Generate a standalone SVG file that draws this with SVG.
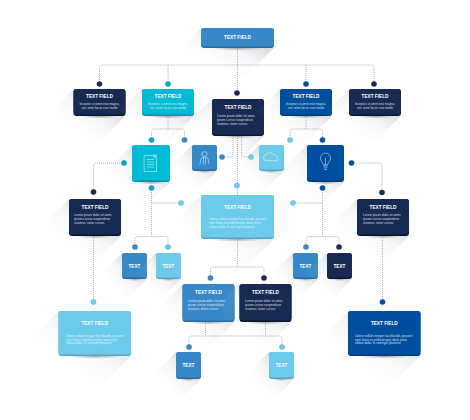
<svg xmlns="http://www.w3.org/2000/svg" width="470" height="420" viewBox="0 0 470 420">
<style>
.sh{fill:url(#long)}
.el{fill:url(#under)}
.navy{fill:#172B52}.navyE{fill:#0B1630}
.cyan{fill:#00BAD6}.cyanE{fill:#0093A9}
.blue{fill:#3788C9}.blueE{fill:#2A6BA0}
.sky{fill:#6CCBEA}.skyE{fill:#52A8C2}
.deep{fill:#004F9E}.deepE{fill:#003A75}
text{font-family:"Liberation Sans",Arial,sans-serif;fill:#fff}
.t{font-size:4.7px;font-weight:700;text-anchor:middle}
.b{font-size:3.1px;fill-opacity:.82}
.c{text-anchor:middle}
.ln{fill:none;stroke:#9BA0A8;stroke-width:.8;stroke-dasharray:1 1}
.ic{fill:none;stroke:#fff;stroke-width:.6;stroke-opacity:.8;stroke-linejoin:round;stroke-linecap:round}
.dn{fill:#172B52}.dc{fill:#00A9C8}.db{fill:#3788C9}.ds{fill:#6CCBEA}.dd{fill:#004F9E}
#dots circle{stroke:#8FA3B5;stroke-opacity:.35;stroke-width:.4}
</style>
<defs>
<linearGradient id="long" x1="1" y1="0" x2="0" y2="1">
<stop offset=".25" stop-color="#8C95A6" stop-opacity=".32"/>
<stop offset=".42" stop-color="#A6AEBB" stop-opacity=".13"/>
<stop offset=".68" stop-color="#C8CDD6" stop-opacity="0"/>
</linearGradient>
<radialGradient id="under">
<stop offset="0" stop-color="#555" stop-opacity=".45"/>
<stop offset="1" stop-color="#555" stop-opacity="0"/>
</radialGradient>
</defs>

<g id="node-top"><polygon class="sh" points="201,28 171,58 244,78 274,48"/><ellipse class="el" cx="237.500" cy="48.500" rx="26" ry="2"/><rect class="blueE" x="201" y="28" width="73" height="20" rx="3"/><rect class="blue" x="201" y="28" width="73" height="18.500" rx="3"/><text class="t" x="237.500" y="38.500">TEXT FIELD</text></g>

<g id="node-a1"><polygon class="sh" points="73.500,89 43.500,119 95.500,146 125.500,116"/><ellipse class="el" cx="99.500" cy="116.500" rx="19" ry="2"/><rect class="navyE" x="73.500" y="89" width="52" height="27" rx="3"/><rect class="navy" x="73.500" y="89" width="52" height="25.500" rx="3"/><text class="t" x="99.500" y="98">TEXT FIELD</text><text class="b c" x="99.500" y="105.300">Inceptos ut amet erat magna,</text><text class="b c" x="99.500" y="109">nec enim lacus cras morbi</text></g>

<g id="node-a2"><polygon class="sh" points="142,89 112,119 164,146 194,116"/><ellipse class="el" cx="168" cy="116.500" rx="19" ry="2"/><rect class="cyanE" x="142" y="89" width="52" height="27" rx="3"/><rect class="cyan" x="142" y="89" width="52" height="25.500" rx="3"/><text class="t" x="168" y="98">TEXT FIELD</text><text class="b c" x="168" y="105.300">Inceptos ut amet erat magna,</text><text class="b c" x="168" y="109">nec enim lacus cras morbi</text></g>

<g id="node-center"><polygon class="sh" points="212,99 182,129 234,166 264,136"/><ellipse class="el" cx="238" cy="136.500" rx="19" ry="2"/><rect class="navyE" x="212" y="99" width="52" height="37" rx="3"/><rect class="navy" x="212" y="99" width="52" height="35.500" rx="3"/><text class="t" x="238" y="108.500">TEXT FIELD</text><text class="b" x="217" y="116.800">Lorem ipsum dolor sit amet,</text><text class="b" x="217" y="120.800">ipsum cursus suspendisse</text><text class="b" x="217" y="124.800">vivamus, tortor cursus</text></g>

<g id="node-a3"><polygon class="sh" points="280,89 250,119 302,146 332,116"/><ellipse class="el" cx="306" cy="116.500" rx="19" ry="2"/><rect class="deepE" x="280" y="89" width="52" height="27" rx="3"/><rect class="deep" x="280" y="89" width="52" height="25.500" rx="3"/><text class="t" x="306" y="98">TEXT FIELD</text><text class="b c" x="306" y="105.300">Inceptos ut amet erat magna,</text><text class="b c" x="306" y="109">nec enim lacus cras morbi</text></g>

<g id="node-a4"><polygon class="sh" points="349,89 319,119 371,146 401,116"/><ellipse class="el" cx="375" cy="116.500" rx="19" ry="2"/><rect class="navyE" x="349" y="89" width="52" height="27" rx="3"/><rect class="navy" x="349" y="89" width="52" height="25.500" rx="3"/><text class="t" x="375" y="98">TEXT FIELD</text><text class="b c" x="375" y="105.300">Inceptos ut amet erat magna,</text><text class="b c" x="375" y="109">nec enim lacus cras morbi</text></g>

<g id="icon-doc"><polygon class="sh" points="132,145 102,175 140,212 170,182"/><ellipse class="el" cx="151" cy="182.500" rx="14" ry="2"/><rect class="cyanE" x="132" y="145" width="38" height="37" rx="3"/><rect class="cyan" x="132" y="145" width="38" height="35.500" rx="3"/><path class="ic" d="M144.500 155.500H154l2.500 2.500V171.500H144.500ZM147 159.500H154M147 162H154M147 164.500H154M147 167H154"/><circle class="ic" cx="155" cy="156" r="1.400"/></g>

<g id="icon-person"><polygon class="sh" points="192,145 166,171 191,197 217,171"/><ellipse class="el" cx="204.500" cy="171.500" rx="9" ry="1.500"/><rect class="blueE" x="192" y="145" width="25" height="26" rx="3"/><rect class="blue" x="192" y="145" width="25" height="24.500" rx="3"/><path class="ic" d="M201.800 154a2.700 2.300 0 0 1 5.400 0a2.700 2.300 0 0 1-5.400 0M200 164l1-5.500q1.500-1.500 3.500-1.500t3.500 1.500l1 5.500M203.500 157.500V164M205.500 157.500V164"/></g>

<g id="icon-cloud"><polygon class="sh" points="259,145 233,171 258,197 284,171"/><ellipse class="el" cx="271.500" cy="171.500" rx="9" ry="1.500"/><rect class="skyE" x="259" y="145" width="25" height="26" rx="3"/><rect class="sky" x="259" y="145" width="25" height="24.500" rx="3"/><path class="ic" d="M265.500 160.500a2.800 2.800 0 0 1 .5-5.500a4 4 0 0 1 7-.5a3 3 0 0 1 3.500 2.500a2.200 2.200 0 0 1 1 3.500Z"/></g>

<g id="icon-bulb"><polygon class="sh" points="307,145 277,175 314,212 344,182"/><ellipse class="el" cx="325.500" cy="182.500" rx="14" ry="2"/><rect class="deepE" x="307" y="145" width="37" height="37" rx="3"/><rect class="deep" x="307" y="145" width="37" height="35.500" rx="3"/><path class="ic" d="M323.500 164.500c-1-2.500-3-3.500-3-6.500a5 5 0 0 1 10 0c0 3-2 4-3 6.500ZM325.500 164.500V158M323.500 166H327.500M324 167.800H327M324.500 169.500H326.500"/></g>

<g id="node-left"><polygon class="sh" points="69,199 39,229 91,266 121,236"/><ellipse class="el" cx="95" cy="236.500" rx="19" ry="2"/><rect class="navyE" x="69" y="199" width="52" height="37" rx="3"/><rect class="navy" x="69" y="199" width="52" height="35.500" rx="3"/><text class="t" x="95" y="208.500">TEXT FIELD</text><text class="b" x="74" y="216.200">Lorem ipsum dolor sit amet,</text><text class="b" x="74" y="220.200">ipsum cursus suspendisse</text><text class="b" x="74" y="224.200">vivamus, tortor cursus</text></g>

<g id="node-right"><polygon class="sh" points="357,199 327,229 379,266 409,236"/><ellipse class="el" cx="383" cy="236.500" rx="19" ry="2"/><rect class="navyE" x="357" y="199" width="52" height="37" rx="3"/><rect class="navy" x="357" y="199" width="52" height="35.500" rx="3"/><text class="t" x="383" y="208.500">TEXT FIELD</text><text class="b" x="363" y="216.200">Lorem ipsum dolor sit amet,</text><text class="b" x="363" y="220.200">ipsum cursus suspendisse</text><text class="b" x="363" y="224.200">vivamus, tortor cursus</text></g>

<g id="node-mid"><polygon class="sh" points="201,195 171,225 244,269 274,239"/><ellipse class="el" cx="237.500" cy="239.500" rx="27" ry="2.200"/><rect class="skyE" x="201" y="195" width="73" height="44" rx="3"/><rect class="sky" x="201" y="195" width="73" height="42.500" rx="3"/><text class="t" x="237.500" y="208.600">TEXT FIELD</text><text class="b" x="209" y="219.800">Libero nullam integer has blandit, posuere</text><text class="b" x="209" y="223.700">eget litora eu,pellentesque diam porta</text><text class="b" x="209" y="227.600">neque dolor, in sed eget pharetra</text></g>

<g id="sq-1"><polygon class="sh" points="122,253 96,279 121,305 147,279"/><ellipse class="el" cx="134.500" cy="279.500" rx="9" ry="1.500"/><rect class="blueE" x="122" y="253" width="25" height="26" rx="3"/><rect class="blue" x="122" y="253" width="25" height="24.500" rx="3"/><text class="t" x="134.500" y="267.600">TEXT</text></g>
<g id="sq-2"><polygon class="sh" points="156,253 130,279 155,305 181,279"/><ellipse class="el" cx="168.500" cy="279.500" rx="9" ry="1.500"/><rect class="skyE" x="156" y="253" width="25" height="26" rx="3"/><rect class="sky" x="156" y="253" width="25" height="24.500" rx="3"/><text class="t" x="168.500" y="267.600">TEXT</text></g>
<g id="sq-3"><polygon class="sh" points="293,253 267,279 292,305 318,279"/><ellipse class="el" cx="305.500" cy="279.500" rx="9" ry="1.500"/><rect class="blueE" x="293" y="253" width="25" height="26" rx="3"/><rect class="blue" x="293" y="253" width="25" height="24.500" rx="3"/><text class="t" x="305.500" y="267.600">TEXT</text></g>
<g id="sq-4"><polygon class="sh" points="327,253 301,279 326,305 352,279"/><ellipse class="el" cx="339.500" cy="279.500" rx="9" ry="1.500"/><rect class="navyE" x="327" y="253" width="25" height="26" rx="3"/><rect class="navy" x="327" y="253" width="25" height="24.500" rx="3"/><text class="t" x="339.500" y="267.600">TEXT</text></g>

<g id="node-low1"><polygon class="sh" points="182.500,284 152.500,314 204.500,352 234.500,322"/><ellipse class="el" cx="208.500" cy="322.500" rx="19" ry="2"/><rect class="blueE" x="182.500" y="284" width="52" height="38" rx="3"/><rect class="blue" x="182.500" y="284" width="52" height="36.500" rx="3"/><text class="t" x="208.500" y="294.300">TEXT FIELD</text><text class="b" x="187.700" y="302.400">Lorem ipsum dolor sit amet,</text><text class="b" x="187.700" y="306.400">ipsum cursus suspendisse</text><text class="b" x="187.700" y="310.400">vivamus, tortor cursus</text></g>

<g id="node-low2"><polygon class="sh" points="239.500,284 209.500,314 261.500,352 291.500,322"/><ellipse class="el" cx="265.500" cy="322.500" rx="19" ry="2"/><rect class="navyE" x="239.500" y="284" width="52" height="38" rx="3"/><rect class="navy" x="239.500" y="284" width="52" height="36.500" rx="3"/><text class="t" x="265.500" y="294.300">TEXT FIELD</text><text class="b" x="245" y="302.400">Lorem ipsum dolor sit amet,</text><text class="b" x="245" y="306.400">ipsum cursus suspendisse</text><text class="b" x="245" y="310.400">vivamus, tortor cursus</text></g>

<g id="node-bl"><polygon class="sh" points="58.500,311 28.500,341 101,386 131,356"/><ellipse class="el" cx="95" cy="356.500" rx="27" ry="2.200"/><rect class="skyE" x="58.500" y="311" width="72.500" height="45" rx="3"/><rect class="sky" x="58.500" y="311" width="72.500" height="43.500" rx="3"/><text class="t" x="94.800" y="325.300">TEXT FIELD</text><text class="b" x="66" y="336.800">Libero nullam integer has blandit, posuere</text><text class="b" x="66" y="340.600">eget litora eu,pellentesque diam porta</text><text class="b" x="66" y="344.400">neque dolor, in sed eget pharetra</text></g>

<g id="node-br"><polygon class="sh" points="348,311 318,341 390.500,386 420.500,356"/><ellipse class="el" cx="384.500" cy="356.500" rx="27" ry="2.200"/><rect class="deepE" x="348" y="311" width="72.500" height="45" rx="3"/><rect class="deep" x="348" y="311" width="72.500" height="43.500" rx="3"/><text class="t" x="384.300" y="325.300">TEXT FIELD</text><text class="b" x="355" y="336.800">Libero nullam integer has blandit, posuere</text><text class="b" x="355" y="340.600">eget litora eu,pellentesque diam porta</text><text class="b" x="355" y="344.400">neque dolor, in sed eget pharetra</text></g>

<g id="sq-5"><polygon class="sh" points="176,352 150,378 175,405 201,379"/><ellipse class="el" cx="188.500" cy="379.500" rx="9" ry="1.500"/><rect class="blueE" x="176" y="352" width="25" height="27" rx="3"/><rect class="blue" x="176" y="352" width="25" height="25.500" rx="3"/><text class="t" x="188.500" y="366.600">TEXT</text></g>
<g id="sq-6"><polygon class="sh" points="269,352 243,378 268,405 294,379"/><ellipse class="el" cx="281.500" cy="379.500" rx="9" ry="1.500"/><rect class="skyE" x="269" y="352" width="25" height="27" rx="3"/><rect class="sky" x="269" y="352" width="25" height="25.500" rx="3"/><text class="t" x="281.500" y="366.600">TEXT</text></g>

<g id="connectors">
<path class="ln" d="M237.500 48V93"/>
<path class="ln" d="M99.500 84V68q0-3 3-3H371q3 0 3 3V84"/>
<path class="ln" d="M168 65V84M306 65V84"/>
<path class="ln" d="M168 116V129M151.500 140V132q0-3 3-3H181.500q3 0 3 3V140"/>
<path class="ln" d="M306 116V129M290 140V132q0-3 3-3H319.500q3 0 3 3V140"/>
<path class="ln" d="M233 136V154q0 3-3 3H222"/>
<path class="ln" d="M241.500 136V154q0 3 3 3H251"/>
<path class="ln" d="M237.500 136V195"/>
<path class="ln" d="M124 163H96.500q-3 0-3 3V192"/>
<path class="ln" d="M351.500 163H379q3 0 3 3V192"/>
<path class="ln" d="M151.500 188V236.500M151.500 203H181"/>
<path class="ln" d="M135 247V239.500q0-3 3-3H165q3 0 3 3V247"/>
<path class="ln" d="M322.500 188V236.500M322.500 203H293"/>
<path class="ln" d="M306 247V239.500q0-3 3-3H336q3 0 3 3V247"/>
<path class="ln" d="M237.500 239V267M210.500 278V270q0-3 3-3H261q3 0 3 3V278"/>
<path class="ln" d="M93.500 236V302M382.500 236V302"/>
<path class="ln" d="M205.500 322V336M265.500 322V336M189 347V339q0-3 3-3H279q3 0 3 3V347"/>
<g id="dots">
<circle class="dn" cx="99.500" cy="84" r="2.800"/><circle class="dc" cx="168" cy="84" r="2.800"/><circle class="dd" cx="306" cy="84" r="2.800"/><circle class="dn" cx="374" cy="84" r="2.800"/><circle class="dn" cx="237" cy="93" r="2.800"/>
<circle class="dc" cx="151.500" cy="140" r="2.800"/><circle class="db" cx="184.500" cy="140" r="2.800"/><circle class="ds" cx="290" cy="140" r="2.800"/><circle class="dd" cx="322.500" cy="140" r="2.800"/>
<circle class="db" cx="222" cy="157" r="2.800"/><circle class="ds" cx="251" cy="157" r="2.800"/><circle class="ds" cx="237" cy="185.500" r="2.800"/>
<circle class="dc" cx="124" cy="163" r="2.800"/><circle class="dn" cx="93.500" cy="192" r="2.800"/><circle class="dc" cx="151.500" cy="188" r="2.800"/><circle class="ds" cx="181" cy="203" r="2.800"/>
<circle class="dd" cx="351.500" cy="163" r="2.800"/><circle class="dn" cx="382" cy="192.500" r="2.800"/><circle class="dd" cx="322.500" cy="188" r="2.800"/><circle class="ds" cx="293" cy="203" r="2.800"/>
<circle class="db" cx="135" cy="247" r="2.800"/><circle class="ds" cx="168" cy="247" r="2.800"/><circle class="db" cx="306" cy="247" r="2.800"/><circle class="dn" cx="339" cy="247" r="2.800"/>
<circle class="db" cx="210.500" cy="278" r="2.800"/><circle class="dn" cx="264" cy="278" r="2.800"/>
<circle class="ds" cx="93.500" cy="302" r="2.800"/><circle class="dd" cx="382.500" cy="302" r="2.800"/>
<circle class="db" cx="189" cy="347" r="2.800"/><circle class="ds" cx="282" cy="347" r="2.800"/>
</g>
</g>
</svg>
